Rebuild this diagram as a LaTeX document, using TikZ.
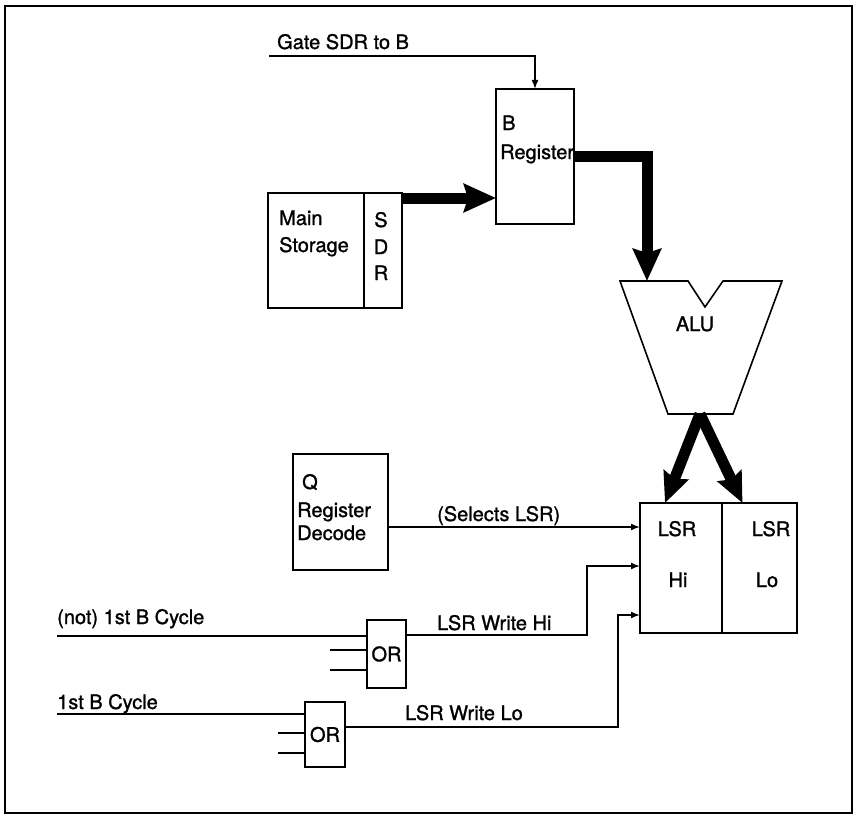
\documentclass[tikz,border=0pt]{standalone}
\usepackage{fontspec}
\setmainfont{TeX Gyre Heros}
\newfontfamily\lblfamily{TeX Gyre Heros}[FakeBold=1.2]
\usetikzlibrary{arrows.meta, positioning}
\newcommand{\lblfont}{\lblfamily\fontsize{20}{24}\selectfont}
\tikzstyle{regbox} = [rectangle, draw=black, line width=1.6pt, inner sep=0pt, outer sep=0pt, anchor=north west]
\tikzstyle{orgate} = [regbox, font=\lblfont]
\tikzstyle{txt} = [font=\lblfont, inner sep=0pt, anchor=base west]
\tikzstyle{ctxt} = [txt, anchor=base]
\tikzstyle{wire} = [line width=1.6pt]
\tikzstyle{sig} = [wire, -{Latex[length=9pt,width=7pt]}]
\tikzstyle{bus} = [line width=11pt, line join=miter, -{Stealth[length=32pt,width=28pt,inset=4pt]}]
\tikzstyle{bussplit} = [line width=11pt, -{Stealth[length=30pt,width=26pt,inset=4pt]}]

\begin{document}
\begin{tikzpicture}[x=1pt, y=-1pt]
\useasboundingbox (0,0) rectangle (855,816);

% Frame
\draw[wire] (5,6) rectangle (852,813);

% B register
\node (breg) [regbox, minimum width=78pt, minimum height=135pt] at (496,89) {};
\node (bregt1) [txt] at (502,130) {B};
\node (bregt2) [txt] at (500,159) {Register};

% Main storage and SDR
\node (mainst) [regbox, minimum width=96pt, minimum height=115pt] at (268,193) {};
\node (sdr) [regbox, minimum width=38pt, minimum height=115pt] at (364,193) {};
\node (mainst1) [txt] at (279,225) {Main};
\node (mainst2) [txt] at (279,252) {Storage};
\node (sdr1) [ctxt] at (381,227) {S};
\node (sdr2) [ctxt] at (381,254) {D};
\node (sdr3) [ctxt] at (381,280) {R};

% ALU
\draw[wire] (620,281) -- (688,281) -- (705,307) -- (723,281) -- (782,281)
  -- (733,414) -- (668,414) -- cycle;
\node (alu) [ctxt] at (695,331) {ALU};
\coordinate (aluin) at (647,281);
\coordinate (aluout) at (700,414);

% Q register decode
\node (qdec) [regbox, minimum width=95pt, minimum height=116pt] at (293,454) {};
\node (qdec1) [txt] at (302,489) {Q};
\node (qdec2) [txt] at (297,517) {Register};
\node (qdec3) [txt] at (297,540) {Decode};

% LSR
\node (lsrhi) [regbox, minimum width=82pt, minimum height=130pt] at (640,503) {};
\node (lsrlo) [regbox, minimum width=75pt, minimum height=130pt] at (722,503) {};
\node (lsrhi1) [ctxt] at (677,536) {LSR};
\node (lsrhi2) [ctxt] at (678,587) {Hi};
\node (lsrlo1) [ctxt] at (771,536) {LSR};
\node (lsrlo2) [ctxt] at (767,587) {Lo};

% OR gates
\node (or1) [orgate, minimum width=39pt, minimum height=68pt] at (367,620) {OR};
\node (or2) [orgate, minimum width=40pt, minimum height=65pt] at (305,702) {OR};

% Inputs
\coordinate (gatein) at (269,56);
\coordinate (notin) at (57,636);
\coordinate (firstin) at (57,714);
\node (gatelbl) [txt] at (277,49) {Gate SDR to B};
\node (notlbl) [txt] at (57,624) {(not) 1st B Cycle};
\node (firstlbl) [txt] at (57,709) {1st B Cycle};
\node (sellbl) [txt] at (437,521) {(Selects LSR)};
\node (wrhilbl) [txt] at (437,630) {LSR Write Hi};
\node (wrlolbl) [txt] at (405,720) {LSR Write Lo};

% Buses
\coordinate (busin) at ([yshift=-5pt]sdr.north east);
\draw[bus] (busin) -- (busin -| breg.west);
\draw[bus] (breg.east) -| (aluin);
\draw[bussplit] (aluout) -- ([xshift=-16pt]lsrhi.north);
\draw[bussplit] (aluout) -- ([xshift=-17pt]lsrlo.north);

% Control lines
\draw[sig] (gatein) -| (breg.north);
\draw[sig] (qdec.east |- 0,527) -- (lsrhi.west |- 0,527);
\draw[wire] (notin) -- (or1.west |- notin);
\foreach \y in {650,670} \draw[wire] (or1.west |- 0,\y) -- ++(-37,0);
\draw[wire] (firstin) -- (or2.west |- firstin);
\foreach \y in {733,753} \draw[wire] (or2.west |- 0,\y) -- ++(-27,0);
\draw[sig] (or1.east |- 0,635) -- (587,635) -- (587,566) -- (lsrhi.west |- 0,566);
\draw[sig] (or2.east |- 0,727) -- (618,727) -- (618,615) -- (lsrhi.west |- 0,615);

\end{tikzpicture}
\end{document}
